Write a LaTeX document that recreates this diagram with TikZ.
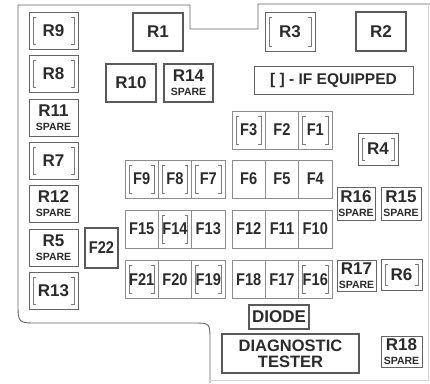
\documentclass[tikz,border=0pt]{standalone}
\usepackage{fontspec}
\setmainfont{Liberation Sans}
\newfontfamily\narrowsans[FakeStretch=0.86]{Liberation Sans}
\usepackage{tikz}
\usetikzlibrary{calc}
\usepackage{xcolor}
\definecolor{Ink}{HTML}{2B2B2B}
\definecolor{Frame}{HTML}{646464}
\definecolor{Cell}{HTML}{8C8C8C}
\definecolor{Bracket}{HTML}{7C7C7C}
\definecolor{Rim}{HTML}{D2D2D2}
\newcommand{\spare}[1]{#1\\[1pt]{\fontsize{10.5}{10}\selectfont SPARE}}

\begin{document}
\begin{tikzpicture}[x=1pt,y=-1pt,
  relay/.style={draw=Frame,line width=0.8pt,minimum width=49pt,minimum height=37pt,inner sep=0pt,align=center,text=Ink,font=\bfseries\fontsize{17}{13}\selectfont},
  heavy/.style={relay,line width=1.2pt,draw=Frame!90!black},
  fuse/.style={draw=Cell,line width=0.7pt,minimum width=33.3pt,minimum height=38pt,inner sep=0pt,text=Ink,font=\narrowsans\bfseries\fontsize{17}{13}\selectfont},
  plain/.style={},
  ifeq/.style={path picture={
    \draw[Bracket,line width=0.8pt] ([shift={(7pt,-5pt)}]path picture bounding box.north west) -- ++(-3pt,0) |- ([shift={(7pt,5pt)}]path picture bounding box.south west);
    \draw[Bracket,line width=0.8pt] ([shift={(-7pt,-5pt)}]path picture bounding box.north east) -- ++(3pt,0) |- ([shift={(-7pt,5pt)}]path picture bounding box.south east);
  }}]
  \useasboundingbox (0,0) rectangle (430,383);
  % housing outline
  \draw[Frame,line width=0.9pt] (210,383) -- (210,340) .. controls (210,323) .. (193,323) -- (38,323) .. controls (18,323) .. (18,303) -- (18,5) -- (190,5) -- (190,29) -- (258,29) -- (258,4) -- (430,4);
  \draw[Rim,line width=0.8pt] (210,380) -- (428,380) -- (428,4);
  % left relay column
  \foreach \name/\y/\s/\txt in {R9/30.5/ifeq/R9, R8/73.8/ifeq/R8, R11/117.5/plain/\spare{R11}, R7/160.7/ifeq/R7,
      R12/204/plain/\spare{R12}, R5/247.5/plain/\spare{R5}, R13/290.5/ifeq/R13}
    \node[relay,\s] (\name) at (53.5,\y) {\txt};
  % top relays
  \node[heavy,minimum width=50pt,minimum height=38pt] (R1) at (158,32) {R1};
  \node[heavy,minimum width=50pt,minimum height=38pt] (R10) at (131,83) {R10};
  \node[heavy,minimum height=38pt] (R14) at (188.5,83) {\spare{R14}};
  \node[relay,ifeq,minimum width=50pt,minimum height=39pt] (R3) at (290,31.5) {R3};
  \node[heavy,minimum width=50pt,minimum height=39pt] (R2) at (381,31.5) {R2};
  \node[relay,minimum width=159pt,minimum height=28pt,font=\bfseries\fontsize{15.5}{14}\selectfont] (legend) at (333.5,80) {[ ] - IF EQUIPPED};
  % fuse blocks
  \foreach \name/\x/\y/\s in {F3/248.7/130/ifeq, F2/282/130/plain, F1/315.3/130/ifeq,
      F9/141.7/179/ifeq, F8/175/179/ifeq, F7/208.3/179/ifeq, F6/248.7/179/plain, F5/282/179/plain, F4/315.3/179/plain,
      F15/141.7/229/plain, F14/175/229/ifeq, F13/208.3/229/plain, F12/248.7/229/plain, F11/282/229/plain, F10/315.3/229/plain,
      F21/141.7/279.5/ifeq, F20/175/279.5/plain, F19/208.3/279.5/ifeq, F18/248.7/279.5/plain, F17/282/279.5/plain, F16/315.3/279.5/ifeq}
    \node[fuse,\s] (\name) at (\x,\y) {\name};
  \node[heavy,minimum width=33pt,minimum height=40pt,font=\narrowsans\bfseries\fontsize{17}{13}\selectfont] (F22) at (101.5,248) {F22};
  % right relays
  \node[relay,ifeq,minimum width=40pt,minimum height=32pt] (R4) at (378,149) {R4};
  \node[relay,minimum width=38pt,minimum height=33pt] (R16) at (356,203.5) {\spare{R16}};
  \node[relay,minimum width=40pt,minimum height=33pt] (R15) at (401,203.5) {\spare{R15}};
  \node[relay,minimum width=39pt,minimum height=31pt] (R17) at (356.5,275.5) {\spare{R17}};
  \node[relay,ifeq,minimum width=41pt,minimum height=31pt] (R6) at (401.5,275) {R6};
  \node[relay,minimum width=41pt,minimum height=31pt] (R18) at (401.5,351.5) {\spare{R18}};
  % bottom blocks
  \node[heavy,minimum width=60pt,minimum height=24pt] (diode) at (279,317) {DIODE};
  \node[heavy,minimum width=137pt,minimum height=39pt,font=\bfseries\fontsize{16.5}{16}\selectfont] (tester) at (290.5,353.5) {DIAGNOSTIC\\TESTER};
\end{tikzpicture}
\end{document}
